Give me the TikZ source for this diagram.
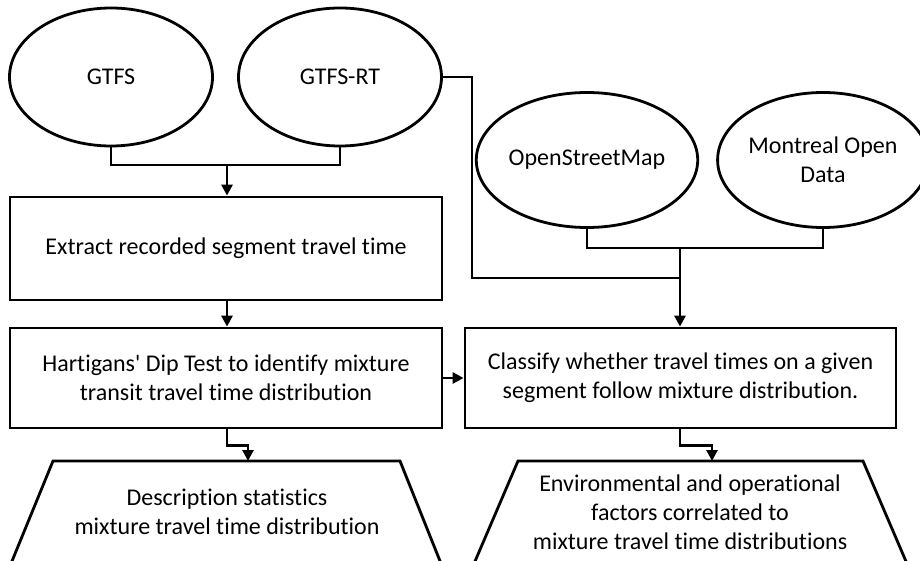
\documentclass[tikz,border=0pt]{standalone}
\usepackage{fontspec}
\setmainfont{Carlito}[Ligatures=NoCommon]
\usetikzlibrary{shapes.geometric,arrows.meta}
\begin{document}
\begin{tikzpicture}[x=1pt,y=-1pt,
  every node/.style={font=\fontsize{24}{29}\selectfont, align=center},
  ln/.style={line width=2.8pt},
  ell/.style={ln, draw, ellipse, inner sep=0pt, minimum width=203pt, minimum height=138pt},
  boxx/.style={ln, draw, rectangle, inner sep=0pt, minimum width=432pt, minimum height=100pt},
  arr/.style={ln, -{Triangle[length=11pt,width=11pt]}}]
\useasboundingbox (0,0) rectangle (920,561);
% sources
\node[ell] (gtfs) at (111,77) {GTFS};
\node[ell] (rt) at (340,77) {GTFS-RT};
\node[ell, minimum width=204pt, minimum height=135pt] (osm) at (587,160) {OpenStreetMap};
\node[ell, minimum width=192pt, minimum height=135pt] (mod) at (823,160) {Montreal Open\\Data};
% process boxes
\node[boxx, minimum height=103pt] (ext) at (226,248.5) {Extract recorded segment travel time};
\node[boxx] (hart) at (226,378) {Hartigans\textquotesingle{} Dip Test to identify mixture\\transit travel time distribution};
\node[boxx, minimum width=431pt] (cls) at (680.5,378) {Classify whether travel times on a given\\segment follow mixture distribution.};
% trapezoids (bottom cut off)
\draw[ln] (10,566) -- (53,461) -- (400,461) -- (442,566);
\draw[ln] (473,566) -- (518,461) -- (863,461) -- (908,566);
\node (desc) at (227,512) {Description statistics\\mixture travel time distribution};
\node (env) at (690,512) {Environmental and operational\\factors correlated to\\mixture travel time distributions};
\coordinate (t1) at (248,461);
\coordinate (t2) at (712,461);
% connectors
\coordinate (j1) at (227,165);
\draw[ln] (gtfs.south) |- (j1) -| (rt.south);
\draw[arr] (j1) -- (j1 |- ext.north);
\draw[arr] (ext.south -| j1) -- (j1 |- hart.north);
\coordinate (k) at (472,278);
\coordinate (j2) at (680,278);
\coordinate (j3) at (680,248);
\draw[ln] (rt.east) -| (k) -- (j2);
\draw[ln] (osm.south) |- (j3) -| (mod.south);
\draw[arr] (j3) -- (j3 |- cls.north);
\draw[arr] (hart.east) -- (cls.west);
\draw[arr] (hart.south -| j1) -- ++(0,16) -| (t1);
\draw[arr] (cls.south -| j2) -- ++(0,16) -| (t2);
\end{tikzpicture}
\end{document}
